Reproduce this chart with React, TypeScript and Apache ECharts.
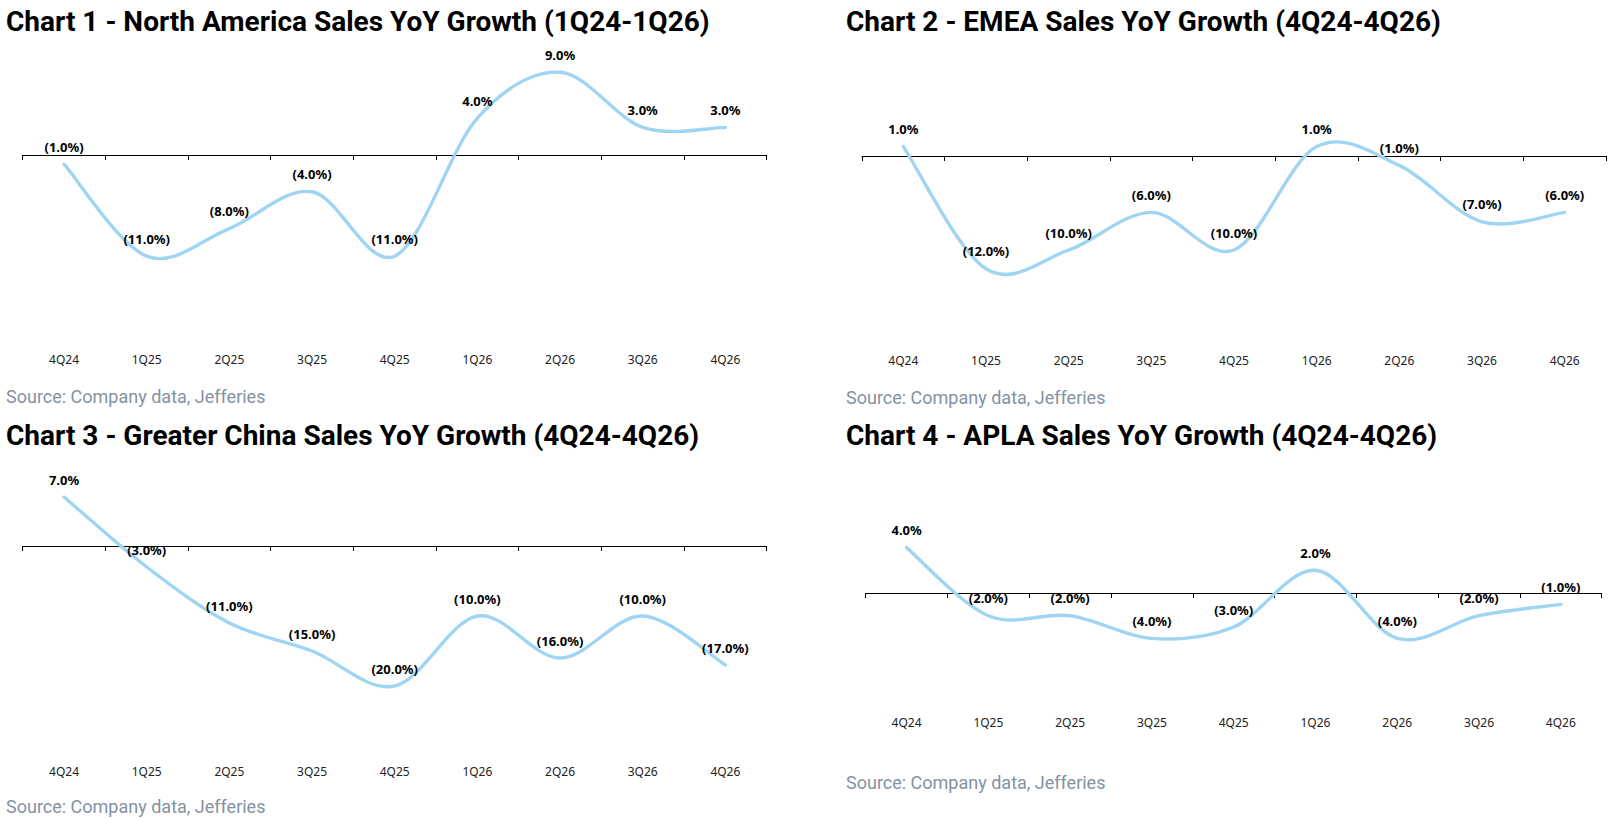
import React, { useEffect, useRef } from "react";
import * as echarts from "echarts";

const categories = ["4Q24", "1Q25", "2Q25", "3Q25", "4Q25", "1Q26", "2Q26", "3Q26", "4Q26"];
const northAmericaValues = [-1, -11, -8, -4, -11, 4, 9, 3, 3];
const emeaValues = [1, -12, -10, -6, -10, 1, -1, -7, -6];
const greaterChinaValues = [7, -3, -11, -15, -20, -10, -16, -10, -17];
const aplaValues = [4, -2, -2, -4, -3, 2, -4, -2, -1];

const chartTitles = [
  "Chart 1 - North America Sales YoY Growth (1Q24-1Q26)",
  "Chart 2 - EMEA Sales YoY Growth (4Q24-4Q26)",
  "Chart 3 - Greater China Sales YoY Growth (4Q24-4Q26)",
  "Chart 4 - APLA Sales YoY Growth (4Q24-4Q26)",
];
const sourceText = "Source: Company data, Jefferies";

const panels = [
  { data: northAmericaValues, min: -20, max: 10, grid: { left: 22.7, top: 63, width: 744, height: 276 }, labelMargin: 14, titleY: 21, titleX: 6, sourceY: 396 },
  { data: emeaValues, min: -20, max: 10, grid: { left: 862, top: 62, width: 744, height: 282 }, labelMargin: 10, titleY: 21, titleX: 846, sourceY: 397 },
  { data: greaterChinaValues, min: -30, max: 10, grid: { left: 22.7, top: 476, width: 744, height: 280 }, labelMargin: 9, titleY: 435, titleX: 6, sourceY: 806 },
  { data: aplaValues, min: -10, max: 10, grid: { left: 865.7, top: 479.5, width: 736, height: 227 }, labelMargin: 10, titleY: 435, titleX: 846, sourceY: 782 },
];

function fmt(v: number): string {
  const s = Math.abs(v).toFixed(1) + "%";
  return v < 0 ? "(" + s + ")" : s;
}

function makeRenderItem(values: number[]) {
  return (params: any, api: any) => {
    if (params.dataIndex !== 0) return null;
    const pts = values.map((v, i) => api.coord([i, v]));
    const n = pts.length;
    let d = "M" + pts[0][0] + " " + pts[0][1];
    for (let i = 0; i < n - 1; i++) {
      const p0 = pts[Math.max(0, i - 1)];
      const p1 = pts[i];
      const p2 = pts[i + 1];
      const p3 = pts[Math.min(n - 1, i + 2)];
      const c1x = p1[0] + (p2[0] - p0[0]) / 6;
      const c1y = p1[1] + (p2[1] - p0[1]) / 6;
      const c2x = p2[0] - (p3[0] - p1[0]) / 6;
      const c2y = p2[1] - (p3[1] - p1[1]) / 6;
      d += " C" + c1x + " " + c1y + " " + c2x + " " + c2y + " " + p2[0] + " " + p2[1];
    }
    return {
      type: "path",
      shape: { pathData: d },
      style: { stroke: "#9fd5f2", lineWidth: 3.4, fill: "none", lineCap: "round", lineJoin: "round" },
    };
  };
}

export default function App() {
  const ref = useRef<HTMLDivElement>(null);
  useEffect(() => {
    if (!ref.current) return;
    const chart = echarts.init(ref.current, undefined, { renderer: "svg" });
    const grids: any[] = [];
    const xAxes: any[] = [];
    const yAxes: any[] = [];
    const series: any[] = [];
    const graphics: any[] = [];
    panels.forEach((p, i) => {
      grids.push({ ...p.grid, containLabel: false });
      xAxes.push({
        type: "category",
        gridIndex: i,
        data: categories,
        position: "bottom",
        axisLine: { show: false, onZero: false },
        axisTick: { show: false },
        splitLine: { show: false },
        axisLabel: { margin: p.labelMargin, fontSize: 12, fontFamily: "Noto Sans", color: "#222" },
      });
      xAxes.push({
        type: "category",
        gridIndex: i,
        data: categories,
        position: "bottom",
        axisLine: { show: true, onZero: true, lineStyle: { color: "#000", width: 1 } },
        axisTick: { show: true, length: 5, lineStyle: { color: "#000", width: 1 } },
        axisLabel: { show: false },
        splitLine: { show: false },
      });
      yAxes.push({ type: "value", gridIndex: i, min: p.min, max: p.max, show: false, splitLine: { show: false } });
      series.push({
        type: "custom",
        xAxisIndex: i * 2,
        yAxisIndex: i,
        data: p.data.map((v, k) => [k, v]),
        renderItem: makeRenderItem(p.data),
        silent: true,
        z: 2,
      });
      series.push({
        type: "line",
        xAxisIndex: i * 2,
        yAxisIndex: i,
        data: p.data,
        showSymbol: true,
        symbol: "circle",
        symbolSize: 1,
        itemStyle: { color: "rgba(0,0,0,0)" },
        lineStyle: { opacity: 0, width: 0 },
        z: 3,
        label: {
          show: true,
          position: "top",
          distance: 10.5,
          formatter: (d: any) => fmt(d.value),
          fontFamily: "Noto Sans",
          fontWeight: "bold",
          fontSize: 13,
          color: "#000",
        },
      });
      graphics.push({
        type: "text",
        x: p.titleX,
        y: p.titleY,
        style: { text: chartTitles[i], fontFamily: "Roboto", fontWeight: "bold", fontSize: 28, fill: "#000", verticalAlign: "middle" },
      });
      graphics.push({
        type: "text",
        x: p.titleX,
        y: p.sourceY,
        style: { text: sourceText, fontFamily: "Roboto", fontSize: 18, fill: "#8592a0", verticalAlign: "middle" },
      });
    });
    chart.setOption({
      animation: false,
      backgroundColor: "#fff",
      grid: grids,
      xAxis: xAxes,
      yAxis: yAxes,
      series,
      graphic: graphics,
    });
    return () => chart.dispose();
  }, []);
  return <div ref={ref} style={{ position: "fixed", left: 0, top: 0, width: 1624, height: 818 }} />;
}
